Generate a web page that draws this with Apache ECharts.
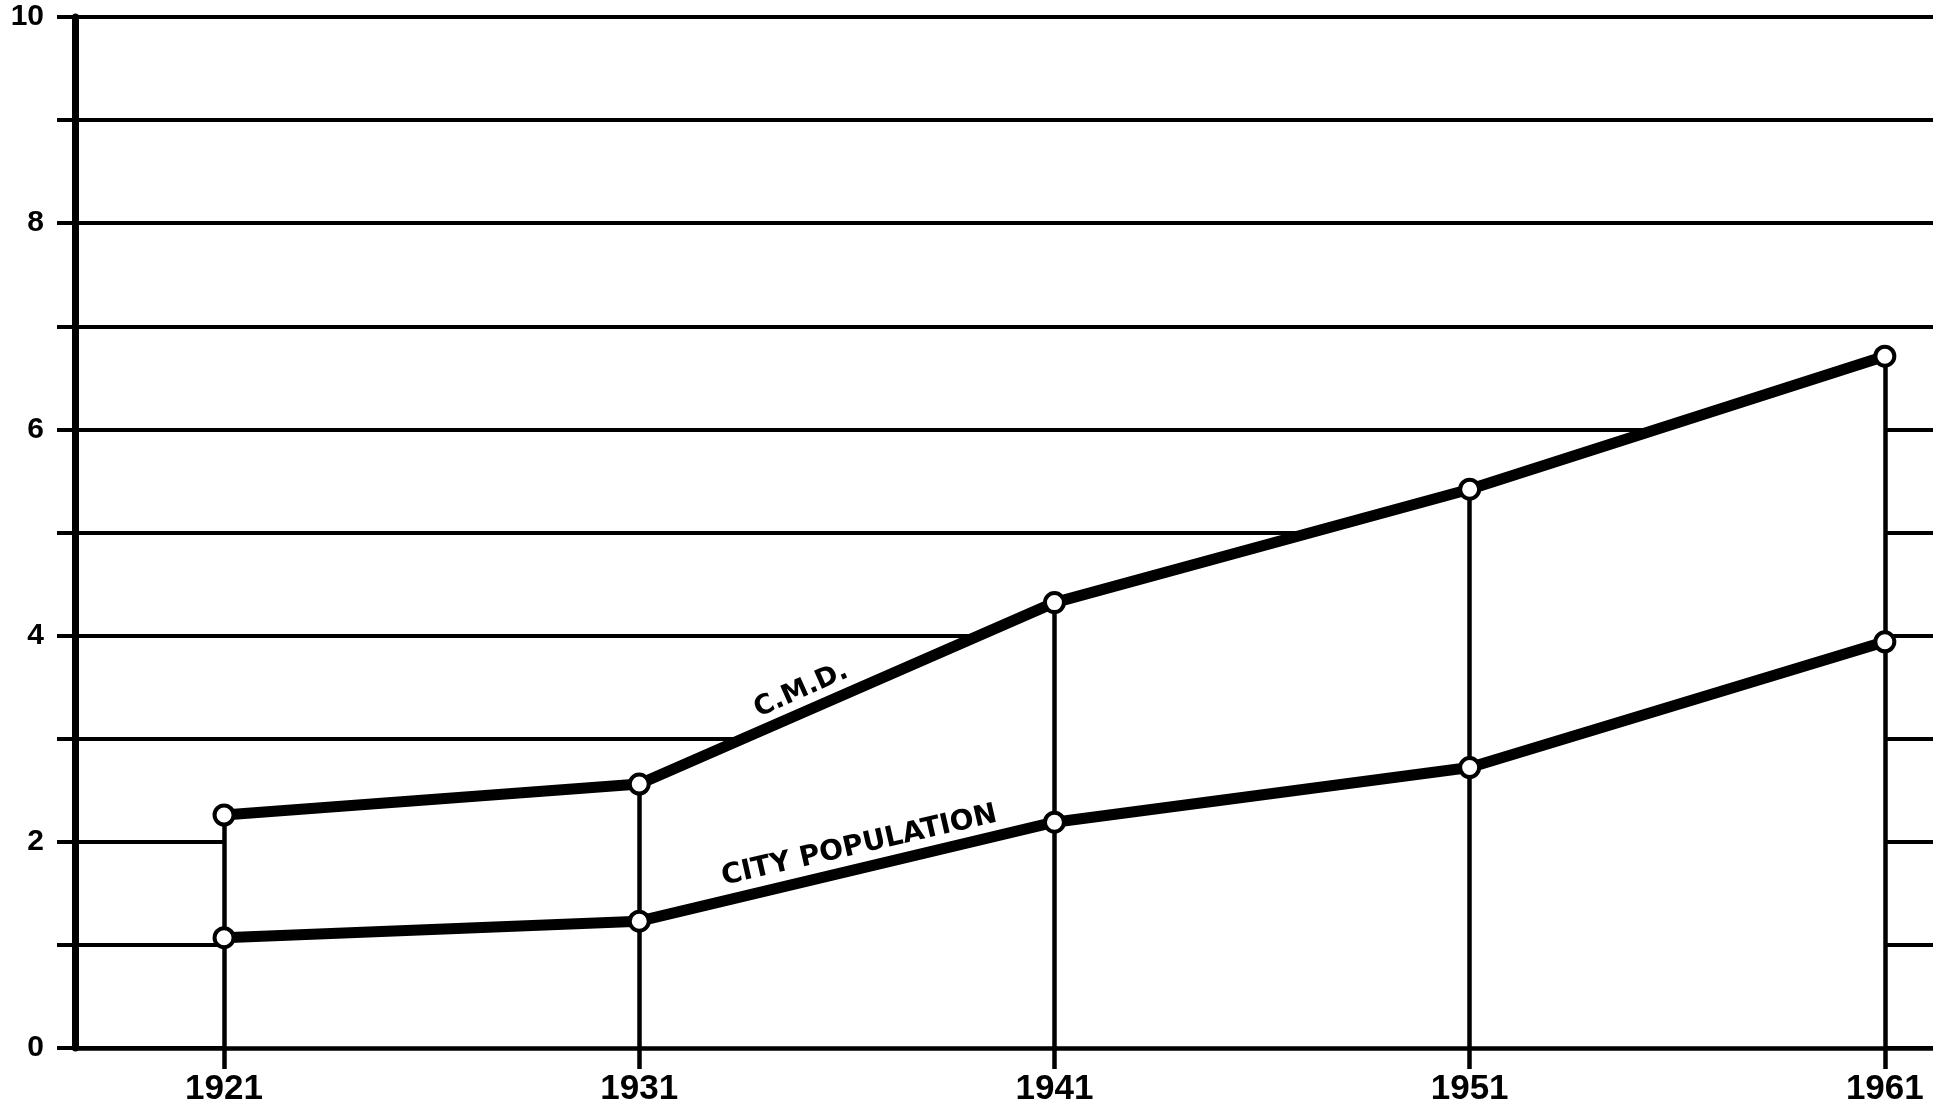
<!DOCTYPE html>
<html>
<head>
<meta charset="utf-8">
<script src="https://cdn.jsdelivr.net/npm/echarts@6/dist/echarts.min.js"></script>
<style>
  html, body { margin: 0; padding: 0; background: #fff; }
  #main { width: 1933px; height: 1110px; }
</style>
</head>
<body>
<div id="main"></div>
<script>
// census years and values
var years = [1921, 1931, 1941, 1951, 1961];
var cmdValues = [2.26, 2.56, 4.32, 5.42, 6.71];
var cityValues = [1.07, 1.23, 2.19, 2.72, 3.94];
var yLabelValues = [0, 2, 4, 6, 8, 10];

// line captions, anchored in data units
var captions = [
  { text: 'C.M.D.', year: 1934.9, value: 3.47, angle: 24, size: 27 },
  { text: 'CITY POPULATION', year: 1936.3, value: 1.96, angle: 13, size: 28 }
];

var font = 'Liberation Sans';
var cmdData = years.map(function (y, i) { return [y, cmdValues[i]]; });
var cityData = years.map(function (y, i) { return [y, cityValues[i]]; });

// vertical drop lines from the axis up to the C.M.D. point
var dropLines = years.map(function (y, i) {
  return [{ coord: [y, 0] }, { coord: [y, cmdValues[i]] }];
});

var myChart = echarts.init(document.getElementById('main'));
myChart.setOption({
  animation: false,
  backgroundColor: '#fff',
  grid: { left: 75, right: 0, top: 17, bottom: 62 },
  xAxis: {
    type: 'value',
    min: 1917.41,
    max: 1962.16,
    z: 4,
    axisLine: { lineStyle: { color: '#000', width: 4.5 } },
    axisTick: { show: true, customValues: years, length: 21, lineStyle: { color: '#000', width: 4.5 } },
    axisLabel: {
      customValues: years,
      margin: 24,
      color: '#000',
      fontFamily: font,
      fontWeight: 'bold',
      fontSize: 35,
      formatter: function (v) { return String(v); }
    },
    splitLine: { show: false }
  },
  yAxis: {
    type: 'value',
    min: 0,
    max: 10,
    interval: 1,
    axisLine: { show: true, lineStyle: { color: '#000', width: 7 } },
    axisTick: { show: true, length: 18, lineStyle: { color: '#000', width: 4 } },
    axisLabel: {
      customValues: yLabelValues,
      margin: 31,
      color: '#000',
      fontFamily: font,
      fontWeight: 'bold',
      fontSize: 30
    },
    splitLine: { show: true, lineStyle: { color: '#000', width: 4 } }
  },
  series: [
    {
      name: 'C.M.D.',
      type: 'line',
      data: cmdData,
      showSymbol: false,
      z: 2,
      lineStyle: { color: '#000', width: 11 },
      areaStyle: { color: '#fff', opacity: 1 }
    },
    {
      name: 'City Population',
      type: 'line',
      data: cityData,
      showSymbol: false,
      z: 2,
      lineStyle: { color: '#000', width: 11 },
      markLine: {
        silent: true,
        symbol: 'none',
        label: { show: false },
        lineStyle: { color: '#000', width: 4.5, type: 'solid' },
        emphasis: { disabled: true },
        data: dropLines
      }
    },
    {
      type: 'scatter',
      data: cmdData.concat(cityData),
      symbol: 'circle',
      symbolSize: 19,
      z: 10,
      silent: true,
      itemStyle: { color: '#fff', borderColor: '#000', borderWidth: 4, opacity: 1 }
    }
  ]
});

// captions along the lines
myChart.setOption({
  graphic: captions.map(function (c) {
    var p = myChart.convertToPixel({ gridIndex: 0 }, [c.year, c.value]);
    return {
      type: 'text',
      x: p[0],
      y: p[1],
      rotation: c.angle * Math.PI / 180,
      z: 20,
      style: {
        text: c.text,
        fill: '#000',
        font: 'bold ' + c.size + 'px "DejaVu Sans"',
        textAlign: 'center',
        textVerticalAlign: 'middle'
      }
    };
  })
});
</script>
</body>
</html>
